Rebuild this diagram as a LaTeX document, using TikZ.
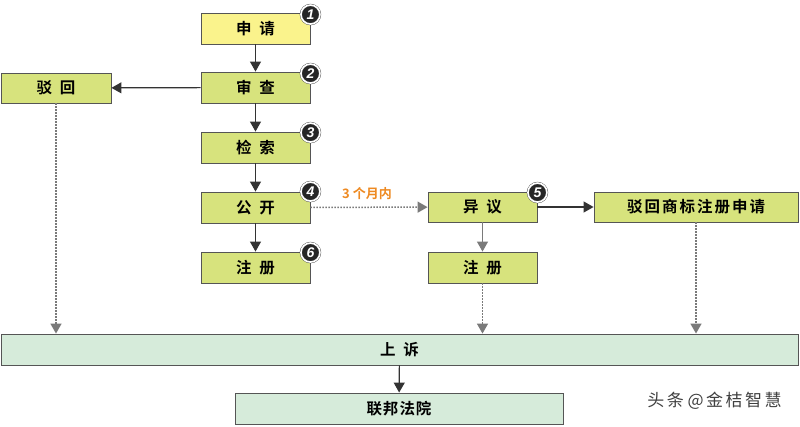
\documentclass[tikz,border=0pt]{standalone}
\usepackage{fontspec}
\setmainfont{Noto Sans CJK SC}[BoldFont={Noto Sans CJK SC Bold}]
\newfontfamily\numfont{Liberation Sans}
\usetikzlibrary{arrows.meta}

\definecolor{boxgreen}{HTML}{D7E37D}
\definecolor{boxyellow}{HTML}{FAF38C}
\definecolor{boxmint}{HTML}{D6EBDA}
\definecolor{edgegray}{HTML}{555555}
\definecolor{dotgray}{HTML}{7A7A7A}
\definecolor{labelorange}{HTML}{EE8A22}

\tikzset{
  stage/.style={draw=edgegray, line width=0.9pt, fill=boxgreen, minimum width=109pt,
    minimum height=31pt, inner sep=0pt, font=\bfseries\fontsize{15.5}{17}\selectfont},
  numcirc/.style={circle, fill=black!85, draw=black!70, double=white, double distance=1.6pt,
    minimum size=19pt, inner sep=0pt, text=white, font=\numfont\bfseries\itshape\fontsize{14}{14}\selectfont},
  flow/.style={draw=black!80, line width=1.2pt, -{Triangle[width=11pt,length=10pt]}},
  side/.style={draw=dotgray, line width=1.2pt, -{Triangle[width=11pt,length=10pt]}},
  late/.style={draw=dotgray, line width=1.5pt, dash pattern=on 1.5pt off 1.5pt,
    -{Triangle[width=11pt,length=10pt]}}
}

\begin{document}
\begin{tikzpicture}[x=1pt,y=-1pt]
    % Frame
    \path[fill=white] (0,0) rectangle (800,426);
    \useasboundingbox (0,0) rectangle (800,426);
    % Main column
    \node[stage, fill=boxyellow] (apply)   at (255.5,28.5)  {申\enspace 请};
    \node[stage]                 (exam)    at (255.5,87.5)  {审\enspace 查};
    \node[stage]                 (search)  at (255.5,147.5) {检\enspace 索};
    \node[stage]                 (publish) at (255.5,207.5) {公\enspace 开};
    \node[stage]                 (reg)     at (255.5,267.5) {注\enspace 册};
    % Side branches
    \node[stage, minimum width=110pt, minimum height=30pt] (reject) at (56,88) {驳\enspace 回};
    \node[stage, minimum height=30pt] (oppose) at (482.5,207) {异\enspace 议};
    \node[stage]                      (reg2)   at (482.5,267.5) {注\enspace 册};
    \node[stage, minimum width=204pt, minimum height=30pt] (refuse) at (696,207)
      {驳\kern2pt 回\kern2pt 商\kern2pt 标\kern2pt 注\kern2pt 册\kern2pt 申\kern2pt 请};
    % Appeal
    \node[stage, fill=boxmint, minimum width=797pt] (appeal) at (399.5,349.5) {上\enspace 诉};
    \node[stage, fill=boxmint, minimum width=328pt] (court)  at (399,408.5)
      {联\kern1pt 邦\kern1pt 法\kern1pt 院};
    % Step numbers
    \node[numcirc] (n1) at ([yshift=-2pt]apply.north east)   {1};
    \node[numcirc] (n2) at ([yshift=-2pt]exam.north east)    {2};
    \node[numcirc] (n3) at ([yshift=-1pt]search.north east)  {3};
    \node[numcirc] (n4) at (publish.north east)              {4};
    \node[numcirc] (n5) at ([yshift=-1pt]oppose.north east)  {5};
    \node[numcirc] (n6) at ([yshift=-1pt]reg.north east)     {6};
    % Arrows
    \draw[flow] (apply) -- (exam);
    \draw[flow] (exam) -- (search);
    \draw[flow] (search) -- (publish);
    \draw[flow] (publish) -- (reg);
    \draw[flow] (exam) -- (reject);
    \draw[flow] (oppose) -- (refuse);
    \draw[side] (oppose) -- (reg2);
    \draw[flow] (appeal) -- (court);
    \draw[late] (publish) -- (oppose) node[midway, above=3pt, xshift=-2pt, text=labelorange,
      font=\bfseries\fontsize{13}{14}\selectfont] {3 个月内};
    % Dotted lines down to appeal
    \draw[late] (reject.south) -- (reject.south |- appeal.north);
    \draw[late] (reg2.south) -- (reg2.south |- appeal.north);
    \draw[late] (refuse.south) -- (refuse.south |- appeal.north);
    % Watermark
    \node[text=black!75, font=\fontsize{17}{19}\selectfont] (mark) at (714.5,401)
      {头\kern2.5pt 条 @\kern2.5pt 金\kern2.5pt 桔\kern2.5pt 智\kern2.5pt 慧};
\end{tikzpicture}
\end{document}
